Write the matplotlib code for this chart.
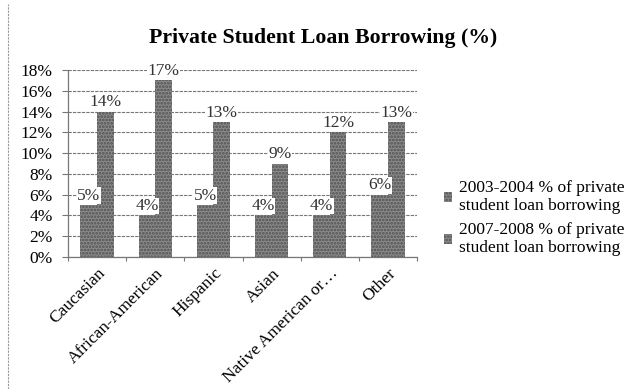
import matplotlib
matplotlib.use("Agg")
import matplotlib.pyplot as plt
import numpy as np
from matplotlib.lines import Line2D

# borrowing shares by race/ethnicity
categories = ["Caucasian", "African-American", "Hispanic", "Asian",
              "Native American or\u2026", "Other"]
share_0304 = [5, 4, 5, 4, 4, 6]
share_0708 = [14, 17, 13, 9, 12, 13]
series_names = ["2003-2004 % of private\nstudent loan borrowing",
                "2007-2008 % of private\nstudent loan borrowing"]
y_ticks = [0, 2, 4, 6, 8, 10, 12, 14, 16, 18]

plt.rcParams['font.family'] = ['Liberation Serif', 'DejaVu Serif']
plt.rcParams['hatch.linewidth'] = 1.3

fig = plt.figure(figsize=(6.33, 3.89), dpi=100)
ax = fig.add_axes([0.1074, 0.3393, 0.5516, 0.4807])

x = np.arange(len(categories))
w = 0.285
bar_kw = dict(width=w, color="#8a8a8a", edgecolor="#505050", hatch=".....",
              linewidth=0, zorder=3)
b1 = ax.bar(x - w / 2, share_0304, **bar_kw)
b2 = ax.bar(x + w / 2, share_0708, **bar_kw)

for bars, vals in ((b1, share_0304), (b2, share_0708)):
    for rect, v in zip(bars, vals):
        ax.annotate("%d%%" % v, (rect.get_x() + rect.get_width() / 2, v),
                    xytext=(0, 1), textcoords="offset points",
                    ha="center", va="bottom", fontsize=12.5, color="#333",
                    bbox=dict(facecolor="white", edgecolor="none", pad=0.2),
                    zorder=5)

ax.set_ylim(0, 18)
ax.set_xlim(-0.5, len(categories) - 0.5)
ax.set_yticks(y_ticks)
ax.set_yticklabels(["%d%%" % t for t in y_ticks], fontsize=12.5)
ax.yaxis.grid(True, color="#777", linewidth=0.8, linestyle=(0, (3, 1)))
ax.set_axisbelow(True)

# category ticks sit on the boundaries between groups
ax.set_xticks(np.arange(len(categories) + 1) - 0.5)
ax.set_xticklabels([])
ax.set_xticks(x, minor=True)
ax.set_xticklabels(categories, minor=True, rotation=45, ha="right",
                   rotation_mode="anchor", fontsize=12.5)
ax.tick_params(axis="x", which="minor", length=0, pad=6)
ax.tick_params(axis="x", which="major", length=3, color="#777")
ax.tick_params(axis="y", length=4, color="#777", pad=7)

for s in ("top", "right"):
    ax.spines[s].set_visible(False)
for s in ("left", "bottom"):
    ax.spines[s].set_color("#777")
    ax.spines[s].set_linewidth(0.9)

fig.text(0.511, 0.902, "Private Student Loan Borrowing (%)", ha="center",
         va="center", fontsize=15.7, fontweight="bold")

handles = [b1, b2]
ax.legend(handles, series_names, loc="center left",
          bbox_to_anchor=(0.69, 0.44), bbox_transform=fig.transFigure,
          frameon=False, fontsize=12.5, handlelength=0.5, handleheight=0.5,
          handletextpad=0.4, labelspacing=0.45, borderaxespad=0)

# page border on the left edge
fig.add_artist(Line2D([0.013, 0.013], [0.0, 0.99], color="#999",
                      linewidth=0.8, linestyle=(0, (2, 1))))

fig.savefig("out.png", dpi=100)
